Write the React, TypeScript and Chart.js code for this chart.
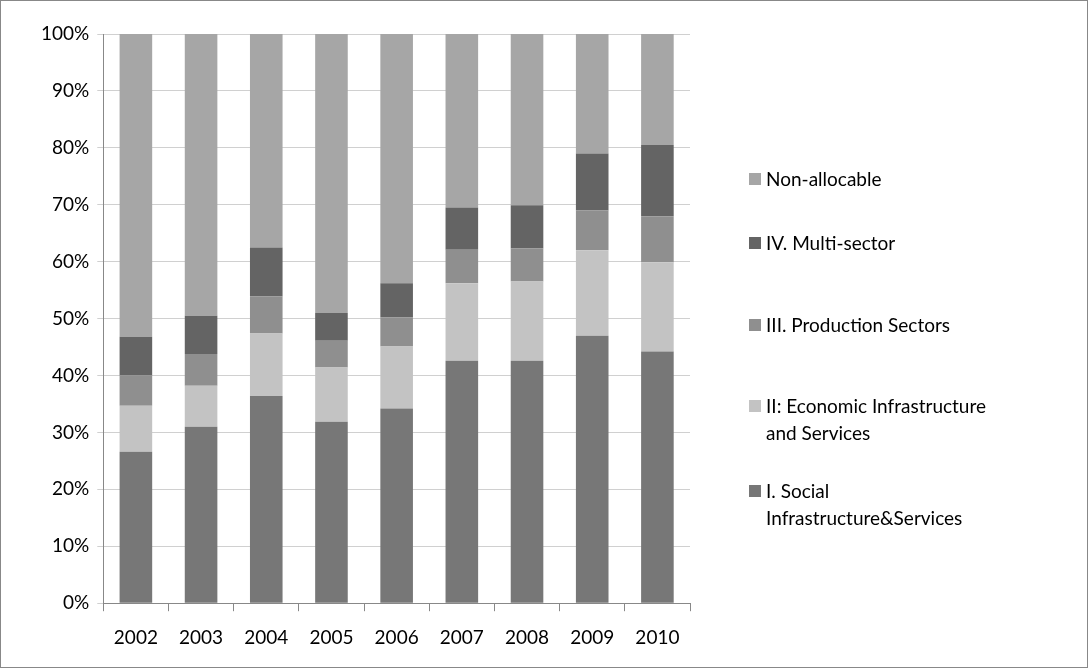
import React, { useEffect, useRef } from "react";
import { Chart, registerables } from "chart.js";
Chart.register(...registerables);

const years = ["2002","2003","2004","2005","2006","2007","2008","2009","2010"];
const social = [26.6, 31.0, 36.4, 31.9, 34.2, 42.6, 42.6, 47.0, 44.2];
const economic = [8.1, 7.2, 11.0, 9.5, 10.9, 13.6, 13.9, 15.0, 15.7];
const production = [5.3, 5.6, 6.5, 4.7, 5.1, 5.9, 5.8, 7.0, 8.1];
const multi = [6.8, 6.7, 8.6, 4.9, 6.0, 7.4, 7.6, 10.0, 12.5];
const nonAlloc = years.map((_, i) => 100 - social[i] - economic[i] - production[i] - multi[i]);

const series = [
  { label: "I. Social Infrastructure&Services", data: social, color: "#777777" },
  { label: "II: Economic Infrastructure and Services", data: economic, color: "#c3c3c3" },
  { label: "III. Production Sectors", data: production, color: "#8f8f8f" },
  { label: "IV. Multi-sector", data: multi, color: "#646464" },
  { label: "Non-allocable", data: nonAlloc, color: "#a6a6a6" },
];
const legendLines: { color: string; lines: string[]; top: number }[] = [
  { color: "#a6a6a6", lines: ["Non-allocable"], top: 164 },
  { color: "#646464", lines: ["IV. Multi-sector"], top: 228 },
  { color: "#8f8f8f", lines: ["III. Production Sectors"], top: 310 },
  { color: "#c3c3c3", lines: ["II: Economic Infrastructure", "and Services"], top: 391 },
  { color: "#777777", lines: ["I. Social", "Infrastructure&Services"], top: 476 },
];
const FONT = "Lato, sans-serif";

export default function App() {
  const ref = useRef<HTMLCanvasElement>(null);
  useEffect(() => {
    document.body.style.margin = "0";
    const chart = new Chart(ref.current!, {
      type: "bar",
      data: {
        labels: years,
        datasets: series.map((s) => ({
          label: s.label, data: s.data, backgroundColor: s.color,
          barPercentage: 0.5, categoryPercentage: 1,
        })),
      },
      options: {
        animation: false, responsive: false,
        layout: { padding: { left: 32, top: 33, right: 397, bottom: 3 } },
        plugins: { legend: { display: false }, tooltip: { enabled: false } },
        scales: {
          x: {
            stacked: true,
            grid: { offset: true, drawOnChartArea: false, tickLength: 8, color: "#888" },
            border: { color: "#888" },
            ticks: { color: "#000", font: { family: FONT, size: 19 }, padding: 15 },
          },
          y: {
            stacked: true, min: 0, max: 100,
            grid: { color: "#d0d0d0", tickLength: 6 },
            border: { color: "#888" },
            ticks: { stepSize: 10, color: "#000", font: { family: FONT, size: 19 }, padding: 8,
              callback: (v) => v + "%" },
          },
        },
      },
    });
    return () => chart.destroy();
  }, []);
  return (
    <div style={{ position: "relative", width: 1086, height: 666, border: "1px solid #888", fontFamily: FONT }}>
      <canvas ref={ref} width={1086} height={666} />
      {legendLines.map((l, i) => (
        <div key={i} style={{ position: "absolute", left: 748, top: l.top, fontSize: 19, lineHeight: "27px", color: "#000" }}>
          <span style={{ position: "absolute", left: 0, top: 8, width: 12, height: 12, background: l.color }} />
          {l.lines.map((t, j) => <div key={j} style={{ marginLeft: 17 }}>{t}</div>)}
        </div>
      ))}
    </div>
  );
}
